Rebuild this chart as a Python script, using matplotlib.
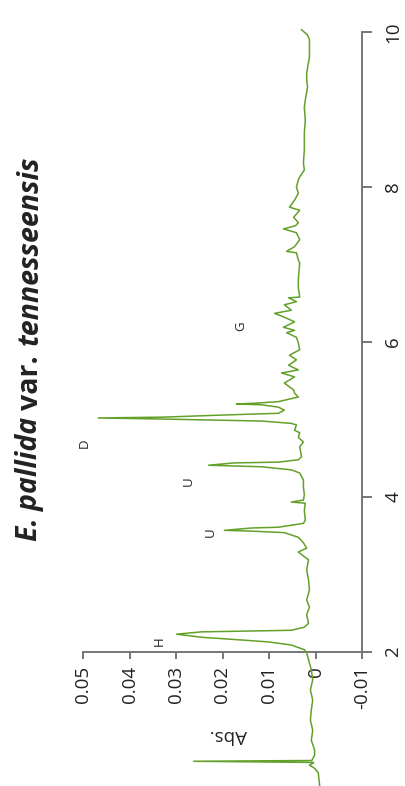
import matplotlib
matplotlib.use("Agg")
import matplotlib.pyplot as plt

# chromatogram trace (retention time in min, absorbance)
time_min = [
    0.27, 0.44, 0.50, 0.54, 0.57, 0.575, 0.59, 0.60, 0.67, 0.74, 0.86, 0.99,
    1.12, 1.25, 1.38, 1.51, 1.64, 1.77, 1.90, 1.99, 2.03, 2.09, 2.13, 2.155,
    2.19, 2.23, 2.26, 2.28, 2.32, 2.37, 2.48, 2.58, 2.67, 2.80, 2.93, 3.06,
    3.19, 3.29, 3.34, 3.41, 3.48, 3.54, 3.56, 3.57, 3.60, 3.61, 3.66, 3.70,
    3.83, 3.92, 3.935, 3.96, 4.03, 4.13, 4.22, 4.31, 4.35, 4.39, 4.41, 4.44,
    4.45, 4.48, 4.52, 4.65, 4.71, 4.77, 4.83, 4.86, 4.93, 4.95, 4.98, 5.006,
    5.02, 5.03, 5.06, 5.08, 5.12, 5.16, 5.19, 5.20, 5.21, 5.23, 5.29, 5.34,
    5.38, 5.47, 5.55, 5.60, 5.64, 5.70, 5.77, 5.83, 5.90, 5.99, 6.06, 6.12,
    6.15, 6.19, 6.26, 6.32, 6.37, 6.41, 6.48, 6.52, 6.57, 6.58, 6.71, 6.80,
    7.02, 7.06, 7.15, 7.17, 7.23, 7.32, 7.41, 7.46, 7.50, 7.54, 7.61, 7.70,
    7.74, 7.83, 7.92, 8.00, 8.09, 8.13, 8.22, 8.31, 8.48, 8.70, 8.86, 9.03,
    9.12, 9.29, 9.38, 9.47, 9.68, 9.90, 9.96, 10.03,
]
absorbance = [
    -0.0009, -0.0006, 0.0002, 0.0013, 0.0004, 0.0005, 0.0262, 0.0008, 0.0002, 0.0002, 0.0009, 0.0006,
    0.0011, 0.0009, 0.0006, 0.0011, 0.0006, 0.0009, 0.0015, 0.0019, 0.0024, 0.0052, 0.0101, 0.0159,
    0.0245, 0.0299, 0.0245, 0.0052, 0.0024, 0.0015, 0.0019, 0.0013, 0.0019, 0.0013, 0.0015, 0.0019,
    0.0015, 0.0037, 0.0019, 0.0026, 0.0037, 0.0067, 0.0138, 0.0196, 0.0138, 0.0080, 0.0026, 0.0022,
    0.0024, 0.0022, 0.0052, 0.0026, 0.0024, 0.0026, 0.0026, 0.0034, 0.0052, 0.0116, 0.0230, 0.0174,
    0.0080, 0.0037, 0.0030, 0.0034, 0.0026, 0.0037, 0.0034, 0.0045, 0.0041, 0.0052, 0.0116, 0.0331,
    0.0467, 0.0331, 0.0187, 0.0080, 0.0067, 0.0080, 0.0116, 0.0170, 0.0131, 0.0080, 0.0037, 0.0045,
    0.0047, 0.0067, 0.0045, 0.0073, 0.0037, 0.0058, 0.0041, 0.0056, 0.0034, 0.0037, 0.0041, 0.0062,
    0.0045, 0.0069, 0.0045, 0.0067, 0.0088, 0.0052, 0.0067, 0.0041, 0.0058, 0.0034, 0.0037, 0.0037,
    0.0034, 0.0037, 0.0041, 0.0062, 0.0045, 0.0034, 0.0041, 0.0069, 0.0043, 0.0037, 0.0047, 0.0034,
    0.0056, 0.0045, 0.0037, 0.0041, 0.0037, 0.0034, 0.0024, 0.0026, 0.0024, 0.0024, 0.0022, 0.0024,
    0.0022, 0.0017, 0.0019, 0.0019, 0.0013, 0.0013, 0.0017, 0.0030,
]

peak_labels = ["H", "U", "U", "D", "G"]
peak_abs = [0.0335, 0.0226, 0.0273, 0.0497, 0.0161]
peak_time = [2.14, 3.55, 4.20, 4.70, 6.21]

abs_ticks = [0.05, 0.04, 0.03, 0.02, 0.01, 0.0, -0.01]
abs_tick_labels = ["0.05", "0.04", "0.03", "0.02", "0.01", "0", "-0.01"]
time_ticks = [2, 4, 6, 8, 10]

title_parts = [("E. pallida", "italic"), ("var.", "normal"), ("tennesseensis", "italic")]

W, H = 405, 786
LINE = "#62a02a"
AXC = "#767676"
TXT = "#222222"
FONT = "Open Sans"

fig = plt.figure(figsize=(W / 100, H / 100), dpi=100)
ax = fig.add_axes([83 / W, 134 / H, 279 / W, 620 / H])

ax.plot(absorbance, time_min, color=LINE, lw=1.1, clip_on=False, zorder=4)

for lab, a, t in zip(peak_labels, peak_abs, peak_time):
    ax.text(a, t, lab, rotation=90, ha="center", va="center", fontsize=9.5,
            color=TXT, family=FONT, clip_on=False)

ax.set_xlim(0.05, -0.01)
ax.set_ylim(2, 10)
ax.set_xticks(abs_ticks)
ax.set_xticklabels(abs_tick_labels)
ax.set_yticks(time_ticks)
ax.yaxis.tick_right()

for side in ["top", "left"]:
    ax.spines[side].set_visible(False)
for side in ["bottom", "right"]:
    ax.spines[side].set_color(AXC)
    ax.spines[side].set_linewidth(1.4)

ax.tick_params(axis="x", direction="out", length=5, width=1.4, color=AXC,
               labelrotation=90, pad=5, labelsize=13.5, labelcolor=TXT)
ax.tick_params(axis="y", direction="out", length=7, width=1.4, color=AXC,
               labelrotation=90, pad=9, labelsize=13.5, labelcolor=TXT)
for lbl in ax.get_xticklabels() + ax.get_yticklabels():
    lbl.set_family(FONT)
for lbl in ax.get_yticklabels():
    lbl.set_verticalalignment("center")

ax.set_xlabel("Abs.", rotation=180, fontsize=13.5, color=TXT, family=FONT)
ax.xaxis.set_label_coords((228 - 83) / 279, (652 - 735) / 620)
ax.xaxis.label.set_verticalalignment("center")

# title, written bottom to top in pieces so the styles can differ
renderer = fig.canvas.get_renderer()
y_px = H - 541
gaps = [7, 10, 0]
for (txt, style), gap in zip(title_parts, gaps):
    t = fig.text(30 / W, y_px / H, txt, rotation=90, ha="center", va="bottom",
                 fontsize=20.5, fontweight="bold", style=style, family=FONT, color=TXT)
    bb = t.get_window_extent(renderer)
    y_px = bb.y1 + gap

fig.savefig("out.png", dpi=100)
